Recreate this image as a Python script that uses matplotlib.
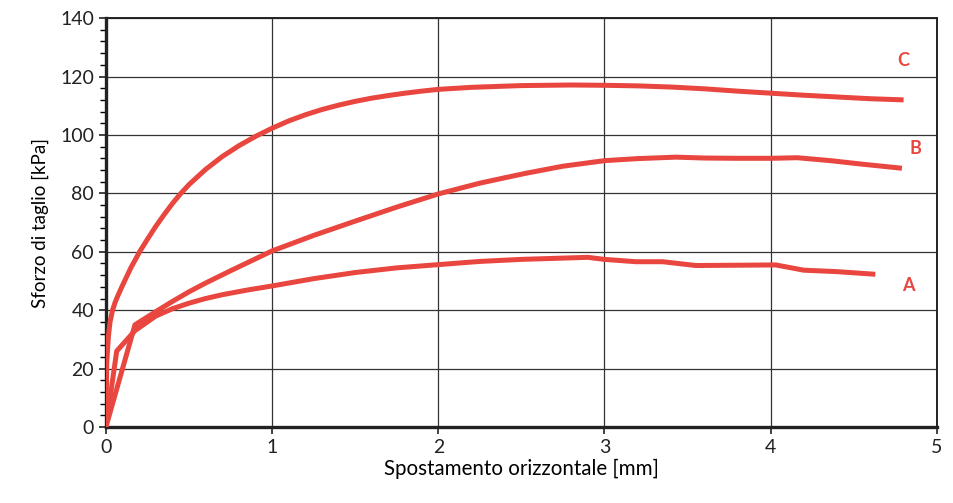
import matplotlib
matplotlib.use("Agg")
import matplotlib.pyplot as plt
from matplotlib.ticker import MultipleLocator

plt.rcParams['font.family'] = ['Lato', 'DejaVu Sans']

# curva C
xc = [0, 0.005, 0.015, 0.025, 0.04, 0.055, 0.07, 0.1, 0.15, 0.205, 0.25, 0.3,
      0.35, 0.4, 0.445, 0.5, 0.6, 0.7, 0.8, 0.9, 1.0, 1.1, 1.2, 1.3, 1.4,
      1.5, 1.6, 1.7, 1.8, 1.9, 2.0, 2.2, 2.5, 2.8, 3.0, 3.2, 3.4, 3.6, 3.8,
      4.0, 4.2, 4.4, 4.6, 4.8]
yc = [0, 22, 31, 36, 40, 42.6, 44.7, 48.5, 54.5, 60.2, 64.3, 68.7,
      72.7, 76.5, 79.6, 83, 88.2, 92.6, 96.3, 99.5, 102.3, 104.8, 106.9, 108.7, 110.2,
      111.5, 112.6, 113.5, 114.3, 115, 115.6, 116.3, 116.9, 117.1, 117, 116.8, 116.4, 115.8, 115,
      114.3, 113.6, 113, 112.4, 112]

# curva B
xb = [0, 0.175, 0.3, 0.4, 0.5, 0.6, 0.75, 1.0, 1.25, 1.5, 1.75, 2.0, 2.25, 2.52,
      2.75, 3.0, 3.2, 3.43, 3.6, 3.8, 4.0, 4.16, 4.36, 4.55, 4.79]
yb = [0, 35, 39.5, 43, 46.3, 49.3, 53.5, 60.3, 65.6, 70.5, 75.3, 79.8, 83.5, 86.8,
      89.3, 91.2, 91.9, 92.4, 92.1, 92, 92, 92.2, 91.2, 90, 88.6]

# curva A
xa = [0, 0.065, 0.175, 0.3, 0.4, 0.5, 0.6, 0.7, 0.85, 1.0, 1.25, 1.5, 1.75, 2.0, 2.25,
      2.5, 2.9, 3.0, 3.19, 3.35, 3.55, 3.8, 4.03, 4.2, 4.4, 4.63]
ya = [0, 26, 33, 38, 40.5, 42.4, 44, 45.3, 46.9, 48.3, 50.8, 52.9, 54.5, 55.6, 56.7,
      57.4, 58.1, 57.4, 56.6, 56.6, 55.3, 55.4, 55.5, 53.7, 53.2, 52.3]

labels = ['A', 'B', 'C']
label_x = [4.83, 4.87, 4.8]
label_y = [48.6, 95.5, 125.6]

red = '#e8463f'

fig = plt.figure(figsize=(9.54, 5.03), dpi=100)
ax = fig.add_axes([0.111, 0.151, 0.871, 0.813])

for x, y in [(xa, ya), (xb, yb), (xc, yc)]:
    ax.plot(x, y, color=red, lw=3.6, solid_capstyle='butt',
            solid_joinstyle='round', zorder=3)

for lab, lx, ly in zip(labels, label_x, label_y):
    ax.text(lx, ly, lab, color=red, fontsize=13, fontweight='bold',
            ha='center', va='center')

ax.set_xlim(0, 5)
ax.set_ylim(0, 140)
ax.xaxis.set_major_locator(MultipleLocator(1))
ax.yaxis.set_major_locator(MultipleLocator(20))
ax.yaxis.set_minor_locator(MultipleLocator(4))
ax.grid(True, which='major', color='#333333', lw=0.9)
ax.set_axisbelow(True)

ax.tick_params(axis='both', which='major', labelsize=14, direction='out',
               length=5, width=1.2, colors='#222222')
ax.tick_params(axis='y', which='minor', direction='out', length=4, width=1)

for side in ['left', 'bottom']:
    ax.spines[side].set_linewidth(2.4)
for side in ['top', 'right']:
    ax.spines[side].set_linewidth(1.4)
for s in ax.spines.values():
    s.set_color('#222222')

ax.set_xlabel('Spostamento orizzontale [mm]', fontsize=14.8, labelpad=2)
ax.set_ylabel('Sforzo di taglio [kPa]', fontsize=13.5, labelpad=8)

fig.savefig('out.png', dpi=100)
